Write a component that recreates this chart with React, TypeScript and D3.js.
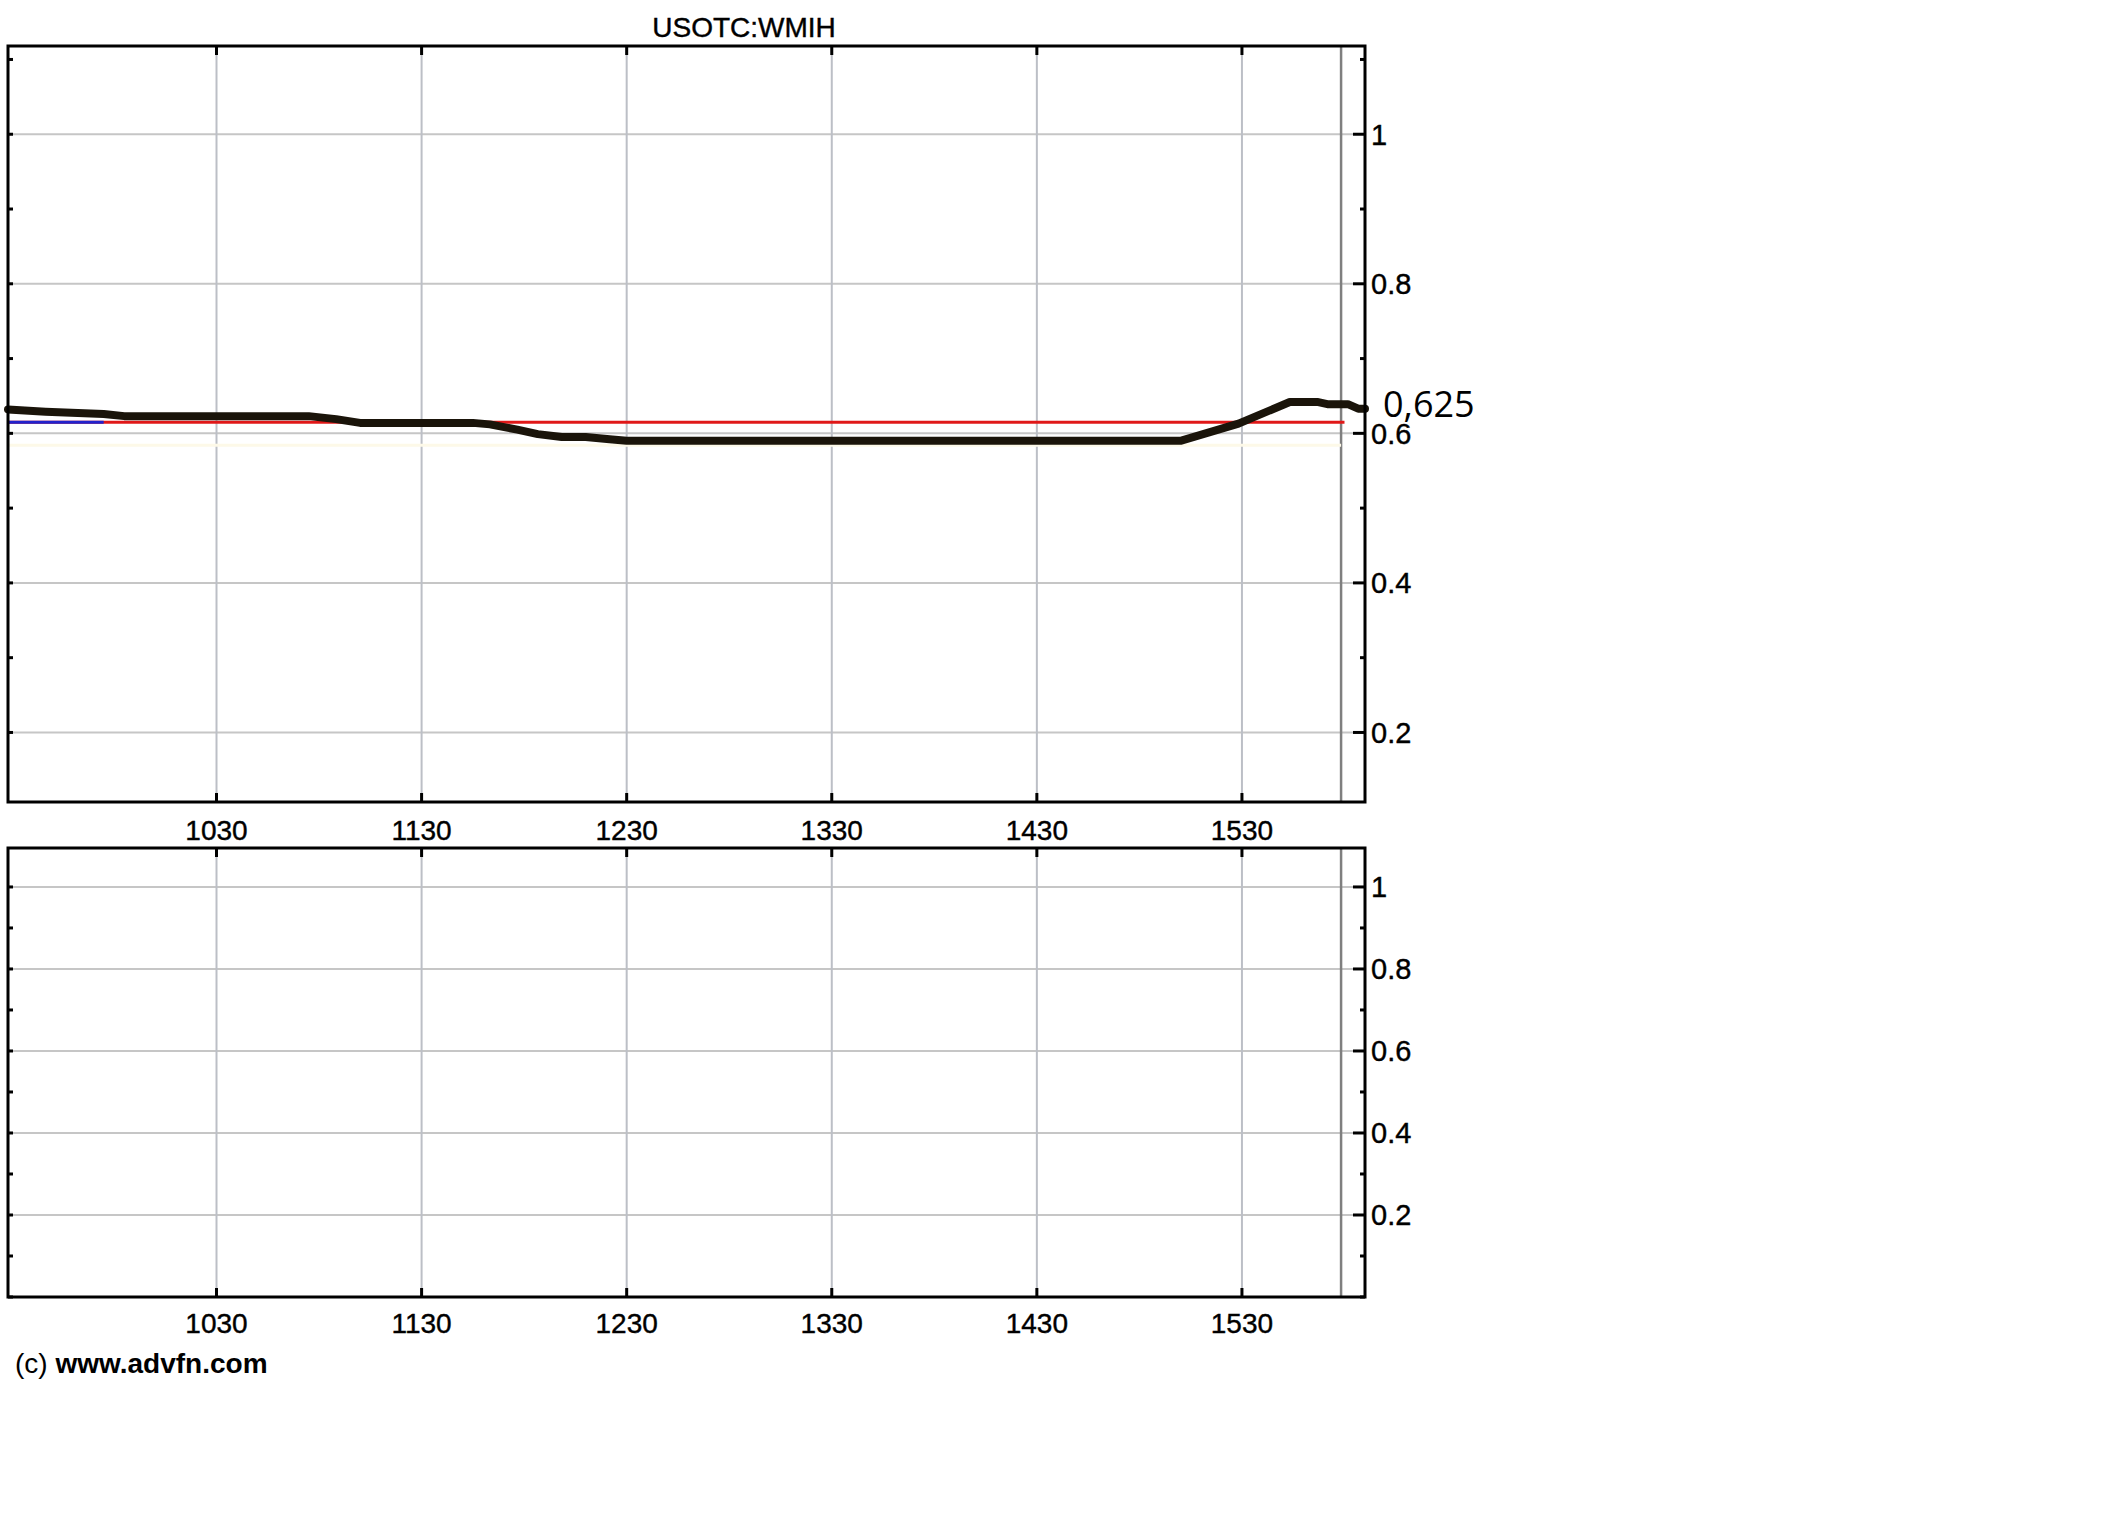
import * as d3 from "d3";

// chart text
const title = "USOTC:WMIH";
const credit = "(c) ";
const creditBold = "www.advfn.com";
const lastPriceLabel = "0,625";

// x axis
const sessionStart = "09:29";
const sessionEnd = "16:06";
const hourTicks = ["10:30", "11:30", "12:30", "13:30", "14:30", "15:30"];
const closeTime = "15:59";

// price series
const priceTimes = [
  "09:29", "09:40", "09:57", "10:03", "10:57", "11:05", "11:12", "11:45",
  "11:50", "11:58", "12:04", "12:11", "12:18", "12:25", "12:30", "15:12",
  "15:29", "15:44", "15:52", "15:55", "16:01", "16:04", "16:06",
];
const prices = [
  0.632, 0.629, 0.626, 0.623, 0.623, 0.619, 0.614, 0.614,
  0.612, 0.605, 0.599, 0.595, 0.595, 0.592, 0.59, 0.59,
  0.613, 0.642, 0.642, 0.639, 0.639, 0.633, 0.633,
];

// reference levels
const prevClose = 0.615;
const prevCloseEnd = "16:00";
const openLineEnd = "09:57";
const faintLevel = 0.584;

// y axes
const priceDomain = [0.107, 1.118];
const volumeDomain = [0, 1.095];
const yLabels = [0.2, 0.4, 0.6, 0.8, 1];

const parse = d3.timeParse("%H:%M");
const fmt = d3.format("~g");
const hhmm = d3.timeFormat("%H%M");

const W = 2126;
const H = 1535;
const left = 8;
const right = 1365;

const font = "'Liberation Sans', Arial, sans-serif";

type PanelProps = {
  y: d3.ScaleLinear<number, number>;
  labelY: number;
  children?: React.ReactNode;
};

const x = d3
  .scaleTime()
  .domain([parse(sessionStart)!, parse(sessionEnd)!])
  .range([left, right]);

const Panel = ({ y, labelY, children }: PanelProps) => {
  const [bottom, top] = y.range();
  const minorTicks = y.ticks(10);
  return (
    <g>
      {/* horizontal grid */}
      {yLabels.map((v) => (
        <line
          key={"hg" + v}
          x1={left}
          x2={right - 12}
          y1={y(v)}
          y2={y(v)}
          stroke="#c6c6c6"
          strokeWidth={2}
        />
      ))}
      {/* vertical grid */}
      {hourTicks.map((t) => (
        <line
          key={"vg" + t}
          x1={x(parse(t)!)}
          x2={x(parse(t)!)}
          y1={top}
          y2={bottom}
          stroke="#bcbfc6"
          strokeWidth={2}
        />
      ))}
      <line
        x1={x(parse(closeTime)!)}
        x2={x(parse(closeTime)!)}
        y1={top}
        y2={bottom}
        stroke="#7f7f7f"
        strokeWidth={2.5}
      />
      {children}
      {/* frame */}
      <rect
        x={left}
        y={top}
        width={right - left}
        height={bottom - top}
        fill="none"
        stroke="#000"
        strokeWidth={3}
      />
      {/* left minor ticks */}
      {minorTicks.map((v) => (
        <line key={"lt" + v} x1={left} x2={left + 5} y1={y(v)} y2={y(v)} stroke="#000" strokeWidth={3} />
      ))}
      {/* right ticks */}
      {minorTicks.map((v) => {
        const major = yLabels.some((l) => Math.abs(l - v) < 1e-9);
        return (
          <line
            key={"rt" + v}
            x1={right - (major ? 12 : 5)}
            x2={right}
            y1={y(v)}
            y2={y(v)}
            stroke="#000"
            strokeWidth={3}
          />
        );
      })}
      {/* x ticks on top and bottom borders */}
      {hourTicks.map((t) => (
        <g key={"xt" + t}>
          <line x1={x(parse(t)!)} x2={x(parse(t)!)} y1={top} y2={top + 9} stroke="#000" strokeWidth={3} />
          <line x1={x(parse(t)!)} x2={x(parse(t)!)} y1={bottom - 9} y2={bottom} stroke="#000" strokeWidth={3} />
          <text
            x={x(parse(t)!)}
            y={labelY}
            textAnchor="middle"
            fontFamily={font}
            fontSize={28}
            fill="#000"
            stroke="#000"
            strokeWidth={0.4}
          >
            {hhmm(parse(t)!)}
          </text>
        </g>
      ))}
      {/* y labels */}
      {yLabels.map((v) => (
        <text
          key={"yl" + v}
          x={right + 6}
          y={y(v)}
          dy="0.36em"
          fontFamily={font}
          fontSize={29}
          fill="#000"
          stroke="#000"
          strokeWidth={0.4}
        >
          {fmt(v)}
        </text>
      ))}
    </g>
  );
};

export default function App() {
  const yPrice = d3.scaleLinear().domain(priceDomain).range([802, 46]);
  const yVol = d3.scaleLinear().domain(volumeDomain).range([1297, 848]);

  const series = priceTimes.map((t, i) => ({ t: parse(t)!, v: prices[i] }));
  const line = d3
    .line<{ t: Date; v: number }>()
    .x((d) => x(d.t))
    .y((d) => yPrice(d.v));

  const x0 = x(parse(sessionStart)!);

  return (
    <svg
      width={W}
      height={H}
      style={{ position: "absolute", left: 0, top: 0, background: "#fff" }}
    >
      <rect width={W} height={H} fill="#fff" />
      <text
        x={744}
        y={37}
        textAnchor="middle"
        fontFamily={font}
        fontSize={28}
        fill="#000"
        stroke="#000"
        strokeWidth={0.4}
      >
        {title}
      </text>

      <Panel y={yPrice} labelY={840}>
        <line
          x1={x0}
          x2={x(parse(closeTime)!)}
          y1={yPrice(faintLevel)}
          y2={yPrice(faintLevel)}
          stroke="#fdf9e8"
          strokeWidth={3}
        />
        <line
          x1={x0}
          x2={x(parse(prevCloseEnd)!)}
          y1={yPrice(prevClose)}
          y2={yPrice(prevClose)}
          stroke="#e01818"
          strokeWidth={3}
        />
        <line
          x1={x0}
          x2={x(parse(openLineEnd)!)}
          y1={yPrice(prevClose)}
          y2={yPrice(prevClose)}
          stroke="#2222cc"
          strokeWidth={3}
        />
        <path
          d={line(series) ?? ""}
          fill="none"
          stroke="#1a140a"
          strokeWidth={8}
          strokeLinejoin="round"
          strokeLinecap="round"
        />
      </Panel>

      <Panel y={yVol} labelY={1333} />

      <text
        x={1383}
        y={417}
        fontFamily="'Open Sans', 'Noto Sans', sans-serif"
        fontSize={36}
        fill="#000"
      >
        {lastPriceLabel}
      </text>

      <text x={15} y={1373} fontFamily={font} fontSize={28} fill="#000">
        {credit}
        <tspan fontWeight="bold">{creditBold}</tspan>
      </text>
    </svg>
  );
}
